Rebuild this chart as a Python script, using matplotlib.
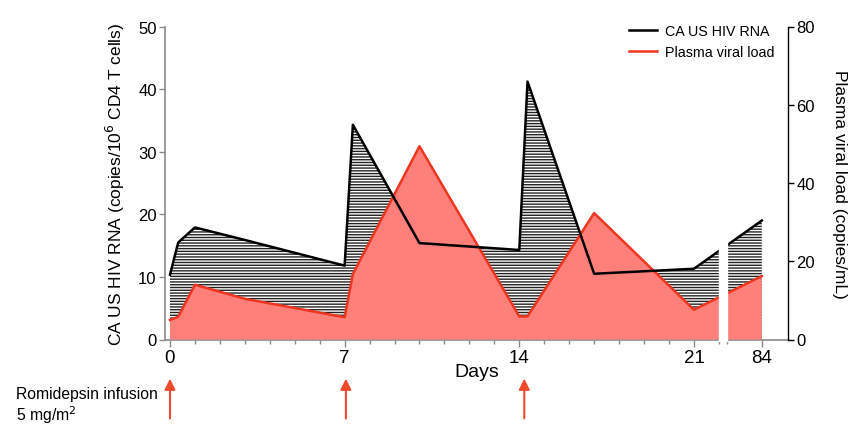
import numpy as np
import matplotlib
matplotlib.use('Agg')
import matplotlib.pyplot as plt
import matplotlib.transforms as mtransforms

plt.rcParams['font.family'] = ['Liberation Sans', 'DejaVu Sans']
plt.rcParams['hatch.linewidth'] = 1.0

# sampling days and read-off values
days = [0, 0.33, 1, 3, 7, 7.33, 10, 14, 14.33, 17, 21, 84]
ca_rna = [10.35, 15.5, 17.9, 15.9, 11.8, 34.3, 15.4, 14.3, 41.2, 10.5, 11.3, 19.0]
plasma_vl = [5.0, 5.8, 14.0, 10.4, 5.7, 16.7, 49.4, 5.9, 5.9, 32.3, 7.6, 16.2]
infusion_days = [0, 7.05, 14.2]
xtick_days = [0, 7, 14, 21, 84]

# broken x axis: days 0-22, then a short piece ending at day 84
BREAK_A, BREAK_B = 22.0, 22.32
SHIFT = 84 - 23.72


def xpos(d):
    d = np.asarray(d, dtype=float)
    return np.where(d <= BREAK_A, d, d - SHIFT)


x = xpos(days)

fig = plt.figure(figsize=(8.57, 4.27), dpi=100)
ax = fig.add_axes([165 / 857, 86.5 / 427, 623 / 857, 313 / 427])
axr = ax.twinx()
axt = fig.add_axes(ax.get_position(), sharex=ax, sharey=ax)
axt.patch.set_visible(False)
axt.axis('off')

red_line = '#EE3520'
red_fill = '#FF7F7A'
grey = '#8a8a8a'

# hatched CA US HIV RNA area (left scale)
ax.fill_between(x, 0, ca_rna, facecolor='white', edgecolor='#222222',
                hatch='------', linewidth=0)
# plasma viral load (right scale)
axr.fill_between(x, 0, plasma_vl, facecolor=red_fill, linewidth=0)
axr.plot(x, plasma_vl, color=red_line, lw=1.8, label='Plasma viral load')
# black line on top
axt.plot(x, ca_rna, color='black', lw=1.8, label='CA US HIV RNA')

ax.set_xlim(-0.2, 24.77)
ax.set_ylim(0, 50)
axr.set_ylim(0, 80)

ax.set_yticks([0, 10, 20, 30, 40, 50])
axr.set_yticks([0, 20, 40, 60, 80])
ax.set_xticks(xpos(xtick_days))
ax.set_xticklabels([str(d) for d in xtick_days])
minor = list(range(0, 23)) + [BREAK_B]
ax.set_xticks(minor, minor=True)

for a in (ax, axr):
    a.spines['top'].set_visible(False)
ax.spines['right'].set_visible(False)
axr.spines['left'].set_visible(False)
axr.spines['bottom'].set_visible(False)
ax.spines['left'].set_color(grey)
ax.spines['bottom'].set_color(grey)
ax.spines['left'].set_linewidth(1.2)
ax.spines['bottom'].set_linewidth(1.2)
axr.spines['right'].set_linewidth(1.0)

ax.tick_params(axis='y', colors=grey, labelcolor='black', labelsize=12,
               length=4, width=1, pad=2)
ax.tick_params(axis='x', which='major', colors=grey, labelcolor='black',
               labelsize=13.5, length=5, width=1, pad=2)
ax.tick_params(axis='x', which='minor', colors=grey, length=3, width=1)
axr.tick_params(axis='y', labelsize=12, length=4, width=1, pad=2)

ax.set_ylabel('CA US HIV RNA (copies/10$^6$ CD4 T cells)', fontsize=12.5,
              labelpad=8)
axr.set_ylabel('Plasma viral load (copies/mL)', fontsize=12.5, rotation=270,
               labelpad=23)
ax.set_xlabel('Days', fontsize=14, labelpad=-2)

# white gap for the axis break
axt.axvspan(BREAK_A, BREAK_B, ymin=-0.006, ymax=1, color='white',
            zorder=5, clip_on=False)

# legend
h1, = axt.get_lines()
h2, = axr.get_lines()
axt.legend([h1, h2], ['CA US HIV RNA', 'Plasma viral load'],
           loc='upper right', bbox_to_anchor=(0.99, 1.03), frameon=False,
           fontsize=10.3, handlelength=1.9, handletextpad=0.6,
           labelspacing=0.45, borderaxespad=0.1)

# infusion arrows
trans = mtransforms.blended_transform_factory(ax.transData, ax.transAxes)
for d in infusion_days:
    ax.annotate('', xy=(xpos(d), -0.125), xytext=(xpos(d), -0.252),
                xycoords=trans, textcoords=trans, annotation_clip=False,
                arrowprops=dict(arrowstyle='-|>', color='#F04A2E', lw=1.5,
                                mutation_scale=16, shrinkA=0, shrinkB=0))

fig.text(16 / 857, 1 - 387 / 427, 'Romidepsin infusion\n5 mg/m$^2$',
         fontsize=11.3, ha='left', va='top', linespacing=1.15)

fig.savefig('out.png', dpi=100)
